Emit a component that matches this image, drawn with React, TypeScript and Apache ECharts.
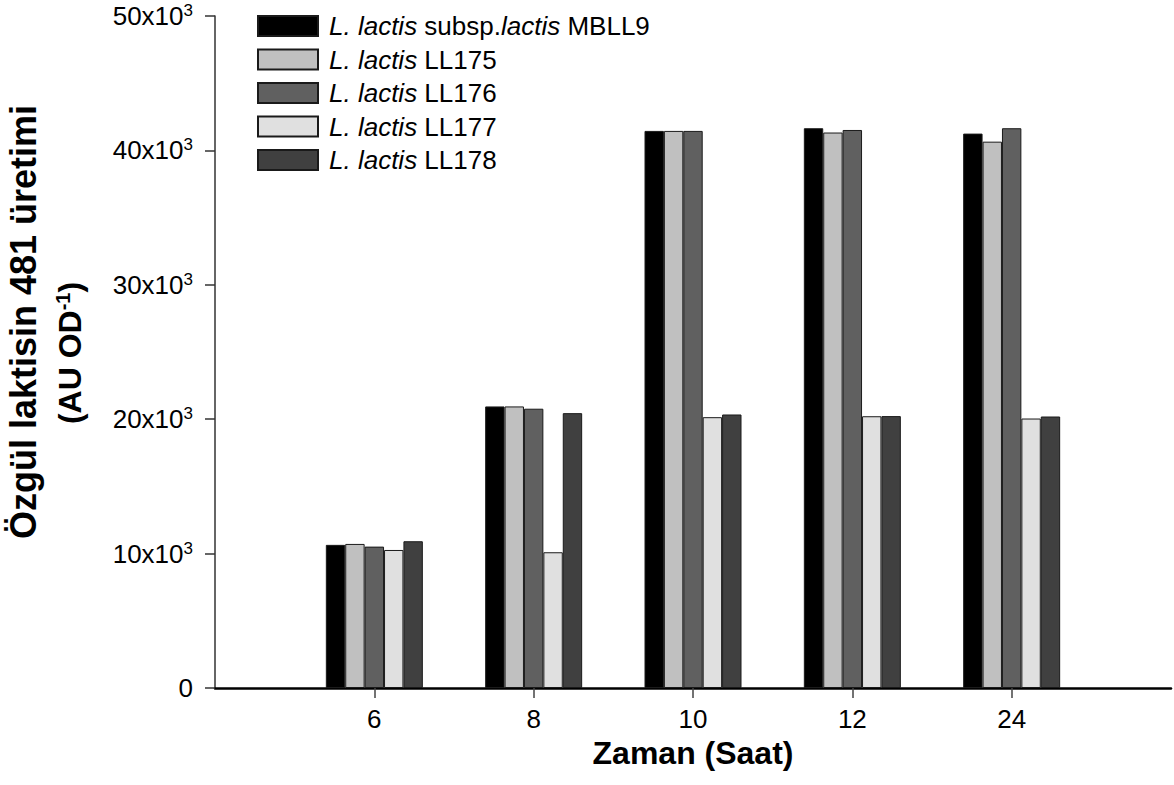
import React, { useEffect, useRef } from "react";
import * as echarts from "echarts";

const hours = ["6", "8", "10", "12", "24"];
const seriesNames = [
  "L. lactis subsp.lactis MBLL9",
  "L. lactis LL175",
  "L. lactis LL176",
  "L. lactis LL177",
  "L. lactis LL178",
];
const mbll9 = [10650, 20950, 41450, 41650, 41250];
const ll175 = [10720, 20950, 41450, 41330, 40650];
const ll176 = [10520, 20780, 41450, 41520, 41650];
const ll177 = [10270, 10100, 20150, 20220, 20050];
const ll178 = [10920, 20450, 20350, 20230, 20200];
const colors = ["#000000", "#c0c0c0", "#606060", "#e0e0e0", "#404040"];
const yTicks = [0, 10000, 20000, 30000, 40000, 50000];

const FONT = "'Liberation Sans', Arial, sans-serif";

export default function App() {
  const ref = useRef<HTMLDivElement>(null);
  useEffect(() => {
    document.body.style.margin = "0";
    if (!ref.current) return;
    const chart = echarts.init(ref.current, null, { renderer: "svg" });
    const cats = ["", ...hours, ""];
    const pad = (a: number[]) => [null, ...a, null];
    const allData = [mbll9, ll175, ll176, ll177, ll178];
    const legendFormatter = (name: string) => {
      if (name.indexOf("subsp.") >= 0) {
        return "{i|L. lactis} subsp.{i|lactis} MBLL9";
      }
      const rest = name.replace("L. lactis ", "");
      return "{i|L. lactis} " + rest;
    };
    chart.setOption({
      animation: false,
      textStyle: { fontFamily: FONT },
      grid: { left: 215, top: 16, width: 960, height: 672, containLabel: false },
      legend: {
        orient: "vertical",
        left: 252,
        top: 8,
        itemWidth: 60,
        itemHeight: 20,
        itemGap: 7.5,
        icon: "rect",
        data: seriesNames,
        formatter: legendFormatter,
        textStyle: {
          fontFamily: FONT,
          fontSize: 26,
          color: "#000",
          lineHeight: 22,
          padding: [0, 0, 0, 6],
          rich: {
            i: { fontFamily: FONT, fontSize: 26, fontStyle: "italic", color: "#000", lineHeight: 22 },
          },
        },
      },
      xAxis: {
        type: "category",
        data: cats,
        boundaryGap: false,
        axisLine: { lineStyle: { color: "#000", width: 2.5 } },
        axisTick: {
          show: true,
          length: 10,
          interval: (i: number, v: string) => v !== "",
          lineStyle: { color: "#444", width: 1.5 },
        },
        axisLabel: {
          interval: 0,
          margin: 18,
          fontSize: 26,
          color: "#000",
          fontFamily: FONT,
        },
        name: "Zaman (Saat)",
        nameLocation: "middle",
        nameGap: 44,
        nameTextStyle: { fontSize: 32, fontWeight: "bold", color: "#000", fontFamily: FONT },
        splitLine: { show: false },
      },
      yAxis: {
        type: "value",
        min: 0,
        max: 50000,
        interval: 10000,
        axisLine: { show: true, lineStyle: { color: "#333", width: 1.5 } },
        axisTick: { show: true, length: 10, lineStyle: { color: "#333", width: 1.5 } },
        splitLine: { show: false },
        axisLabel: {
          margin: 22,
          color: "#000",
          fontFamily: FONT,
          formatter: (v: number) => {
            if (!yTicks.includes(v)) return "";
            if (v === 0) return "{n|0}";
            return "{n|" + v / 1000 + "x10}{s|3}";
          },
          rich: {
            n: { fontSize: 26, fontFamily: FONT, color: "#000", lineHeight: 28 },
            s: { fontSize: 17, fontFamily: FONT, color: "#000", verticalAlign: "top", lineHeight: 28 },
          },
        },
      },
      graphic: [
        {
          type: "text",
          x: 23,
          y: 322,
          rotation: Math.PI / 2,
          style: {
            text: "Özgül laktisin 481 üretimi",
            font: "bold 36px 'Liberation Sans', Arial, sans-serif",
            fill: "#000",
            align: "center",
            verticalAlign: "middle",
          },
        },
        {
          type: "text",
          x: 70,
          y: 353,
          rotation: Math.PI / 2,
          style: {
            text: "{b|(AU OD}{s|-1}{b|)}",
            fill: "#000",
            align: "center",
            verticalAlign: "middle",
            rich: {
              b: { fontSize: 32, fontWeight: "bold", fontFamily: FONT, fill: "#000", lineHeight: 34 },
              s: { fontSize: 20, fontWeight: "bold", fontFamily: FONT, fill: "#000", verticalAlign: "top", lineHeight: 34 },
            },
          },
        },
      ],
      series: seriesNames.map((name, k) => ({
        name,
        type: "bar",
        data: pad(allData[k]),
        barWidth: 19.4,
        barGap: "0%",
        itemStyle: { color: colors[k], borderColor: "#1a1a1a", borderWidth: 1 },
      })),
    });
    return () => chart.dispose();
  }, []);
  return <div ref={ref} style={{ width: 1174, height: 785 }} />;
}
